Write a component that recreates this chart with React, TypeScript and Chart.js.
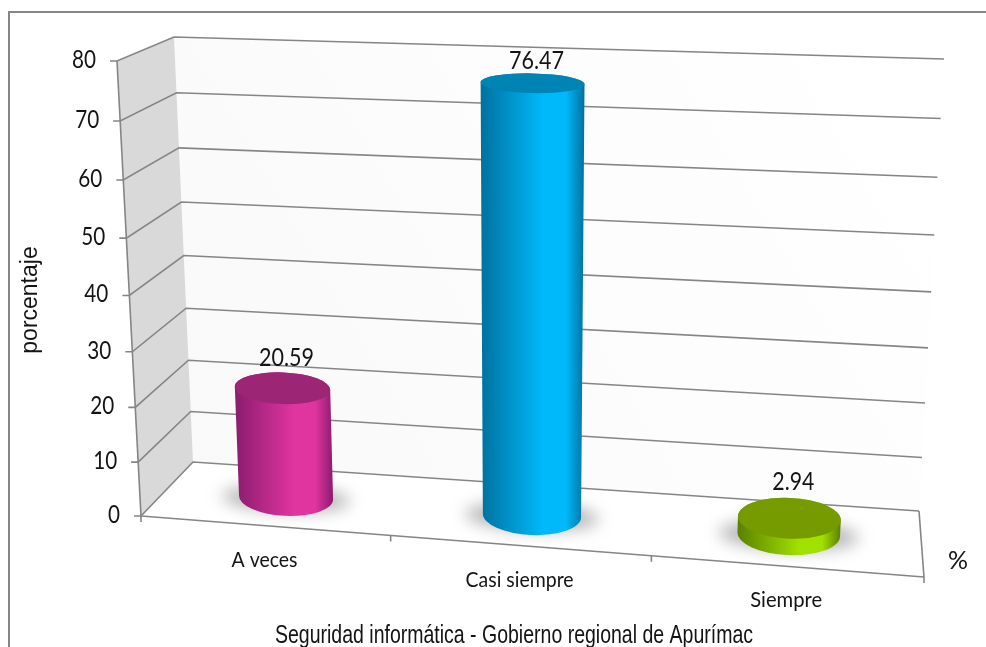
import { useEffect, useRef } from "react";
import { Chart, registerables } from "chart.js";
import type { Plugin } from "chart.js";

Chart.register(...registerables);

const categories = ["A veces", "Casi siempre", "Siempre"];
const percentages = [20.59, 76.47, 2.94];
const yTicks = [0, 10, 20, 30, 40, 50, 60, 70, 80];
const sideDark = ["#8a1c6e", "#00719f", "#5b8000"];
const sideBright = ["#e0349f", "#00b9fa", "#a2e000"];
const capColors = ["#9c2675", "#0084b4", "#769b00"];
const categoryWidths = [66, 108, 72];
const axisTitleX = "Seguridad informática - Gobierno regional de Apurímac";
const axisTitleY = "porcentaje";
const unitLabel = "%";

type Pt = [number, number];
const FONT = "Lato, 'Noto Sans', sans-serif";
const TITLE_FONT = "'Liberation Sans', Arial, sans-serif";
const LINE = "#858585";

// Corners of the chart box on screen: bottom-left, bottom-right, top-right, top-left.
const frontPlane: Pt[] = [[141, 516], [924, 577], [951, 93], [117, 61]];
const backPlane: Pt[] = [[193, 462], [919, 511], [944, 59], [174, 37]];

// Projective map of the unit square onto a screen quad.
function homography(q: Pt[]) {
  const [[x0, y0], [x1, y1], [x2, y2], [x3, y3]] = q;
  const dx1 = x1 - x2, dx2 = x3 - x2, sx = x0 - x1 + x2 - x3;
  const dy1 = y1 - y2, dy2 = y3 - y2, sy = y0 - y1 + y2 - y3;
  const det = dx1 * dy2 - dx2 * dy1;
  const g = (sx * dy2 - dx2 * sy) / det;
  const h = (dx1 * sy - sx * dy1) / det;
  const a = x1 - x0 + g * x1, b = x3 - x0 + h * x3;
  const d = y1 - y0 + g * y1, e = y3 - y0 + h * y3;
  return (u: number, v: number): Pt => {
    const w = g * u + h * v + 1;
    return [(a * u + b * v + x0) / w, (d * u + e * v + y0) / w];
  };
}

const front = homography(frontPlane);
const back = homography(backPlane);

// u: along the category axis, depth: 0 front to 1 back, v: fraction of the value axis.
function project(u: number, depth: number, v: number): Pt {
  const f = front(u, v);
  const b = back(u, v);
  return [f[0] + (b[0] - f[0]) * depth, f[1] + (b[1] - f[1]) * depth];
}

function segment(ctx: CanvasRenderingContext2D, a: Pt, b: Pt) {
  ctx.beginPath();
  ctx.moveTo(a[0], a[1]);
  ctx.lineTo(b[0], b[1]);
  ctx.stroke();
}

function polygon(ctx: CanvasRenderingContext2D, pts: Pt[]) {
  ctx.beginPath();
  pts.forEach((p, i) => (i ? ctx.lineTo(p[0], p[1]) : ctx.moveTo(p[0], p[1])));
  ctx.closePath();
}

function label(
  ctx: CanvasRenderingContext2D,
  text: string,
  x: number,
  y: number,
  font: string,
  align: CanvasTextAlign = "center",
  maxWidth?: number,
) {
  ctx.font = font;
  ctx.fillStyle = "#141414";
  ctx.textAlign = align;
  ctx.textBaseline = "middle";
  if (maxWidth) ctx.fillText(text, x, y, maxWidth);
  else ctx.fillText(text, x, y);
}

const roomPlugin: Plugin<"bar"> = {
  id: "room",
  beforeDatasetsDraw(chart) {
    const { ctx, scales } = chart;
    const y = scales.y;
    const frac = (val: number) => (y.bottom - y.getPixelForValue(val)) / (y.bottom - y.top);
    ctx.save();

    // Outer chart border, open on the right and at the bottom.
    ctx.strokeStyle = "#868686";
    ctx.lineWidth = 2;
    ctx.beginPath();
    ctx.moveTo(9, 647);
    ctx.lineTo(9, 12);
    ctx.lineTo(986, 12);
    ctx.stroke();

    // Back wall and side wall.
    const wall = ctx.createLinearGradient(190, 470, 900, 60);
    wall.addColorStop(0, "#f9f9f9");
    wall.addColorStop(1, "#ffffff");
    ctx.fillStyle = wall;
    polygon(ctx, [back(0, 0), back(1, 0), back(1, 1), back(0, 1)]);
    ctx.fill();
    ctx.fillStyle = "#d9d9d9";
    polygon(ctx, [front(0, 0), back(0, 0), back(0, 1), front(0, 1)]);
    ctx.fill();

    // Gridlines run along the side wall and across the back wall.
    ctx.strokeStyle = LINE;
    ctx.lineWidth = 1.6;
    yTicks.forEach((t) => {
      const v = frac(t);
      const f = front(0, v);
      const b = back(0, v);
      const r = back(1, v);
      ctx.beginPath();
      ctx.moveTo(f[0] - 7, f[1]);
      ctx.lineTo(f[0], f[1]);
      ctx.lineTo(b[0], b[1]);
      ctx.lineTo(r[0], r[1]);
      ctx.stroke();
      label(ctx, String(t), f[0] - 21, f[1] - 1, `25px ${FONT}`, "right", t === 0 ? 12 : 24);
    });

    // Value axis edge and floor outline.
    segment(ctx, front(0, 0), front(0, 1));
    segment(ctx, back(1, 0), front(1, 0));
    segment(ctx, front(0, 0), front(1, 0));
    for (let i = 0; i <= categories.length; i++) {
      const p = front(i / categories.length, 0);
      segment(ctx, p, [p[0], p[1] + 6]);
    }
    ctx.restore();
  },
  afterDatasetsDraw(chart) {
    const { ctx, chartArea } = chart;
    const meta = chart.getDatasetMeta(0);
    const areaW = chartArea.right - chartArea.left;
    const areaH = chartArea.bottom - chartArea.top;
    const depth = 0.5;
    const depthSpan = 0.325;
    ctx.save();

    meta.data.forEach((bar: any, i: number) => {
      const u = (bar.x - chartArea.left) / areaW;
      const du = bar.width / 2 / areaW;
      const v = (bar.base - bar.y) / areaH;

      const ellipseAt = (lvl: number) => {
        const c = project(u, depth, lvl);
        const l = project(u - du, depth, lvl);
        const r = project(u + du, depth, lvl);
        const n = project(u, depth - depthSpan, lvl);
        const f = project(u, depth + depthSpan, lvl);
        return {
          c,
          rx: Math.hypot(r[0] - l[0], r[1] - l[1]) / 2,
          ry: Math.abs(n[1] - f[1]) / 2,
          rot: Math.atan2(r[1] - l[1], r[0] - l[0]) * 0.6,
        };
      };
      const bottom = ellipseAt(0);
      const top = ellipseAt(v);

      // Soft contact shadow on the floor.
      ctx.save();
      ctx.filter = "blur(8px)";
      ctx.fillStyle = "rgba(110,110,110,0.5)";
      ctx.beginPath();
      ctx.ellipse(bottom.c[0], bottom.c[1] + 1, bottom.rx * 1.36, bottom.ry * 0.72, bottom.rot, 0, Math.PI * 2);
      ctx.fill();
      ctx.restore();

      // Cylinder wall, shaded across its width.
      const leftX = Math.min(top.c[0] - top.rx, bottom.c[0] - bottom.rx);
      const rightX = Math.max(top.c[0] + top.rx, bottom.c[0] + bottom.rx);
      const shade = ctx.createLinearGradient(leftX, 0, rightX, 0);
      shade.addColorStop(0, sideDark[i]);
      shade.addColorStop(0.6, sideBright[i]);
      shade.addColorStop(0.82, sideBright[i]);
      shade.addColorStop(1, sideDark[i]);
      ctx.fillStyle = shade;
      ctx.beginPath();
      ctx.ellipse(bottom.c[0], bottom.c[1], bottom.rx, bottom.ry, bottom.rot, 0, Math.PI);
      ctx.ellipse(top.c[0], top.c[1], top.rx, top.ry, top.rot, Math.PI, Math.PI * 2);
      ctx.closePath();
      ctx.fill();

      // Cap.
      ctx.fillStyle = capColors[i];
      ctx.beginPath();
      ctx.ellipse(top.c[0], top.c[1], top.rx, top.ry, top.rot, 0, Math.PI * 2);
      ctx.fill();

      // Value above the cap and category under the front edge.
      const gap = 8 + top.ry * 0.4;
      label(ctx, percentages[i].toFixed(2), top.c[0] + 4, top.c[1] - top.ry - gap, `25px ${FONT}`, "center", i === 2 ? 42 : 55);
      const edge = front(u, 0);
      label(ctx, categories[i], edge[0], edge[1] + 34, `22px ${FONT}`, "center", categoryWidths[i]);
    });

    label(ctx, unitLabel, 958, 561, `25px ${FONT}`, "center", 20);
    label(ctx, axisTitleX, 514, 636, `25px ${TITLE_FONT}`, "center", 478);
    ctx.save();
    ctx.translate(31, 300);
    ctx.rotate(-Math.PI / 2);
    label(ctx, axisTitleY, 0, 0, `23px ${TITLE_FONT}`, "center", 108);
    ctx.restore();
    ctx.restore();
  },
};

export default function App() {
  const canvasRef = useRef<HTMLCanvasElement>(null);

  useEffect(() => {
    const chart = new Chart(canvasRef.current!, {
      type: "bar",
      data: {
        labels: categories,
        datasets: [
          {
            data: percentages,
            backgroundColor: "rgba(0,0,0,0)",
            barPercentage: 0.39,
            categoryPercentage: 1,
          },
        ],
      },
      options: {
        responsive: false,
        animation: false,
        layout: { padding: { left: 141, right: 62, top: 61, bottom: 131 } },
        plugins: { legend: { display: false }, tooltip: { enabled: false }, title: { display: false } },
        scales: {
          x: { display: false },
          y: { display: false, min: 0, max: 80, ticks: { stepSize: 10 } },
        },
      },
      plugins: [roomPlugin],
    });
    return () => chart.destroy();
  }, []);

  return (
    <div style={{ position: "absolute", left: 0, top: 0, width: 986, height: 647, background: "#fff" }}>
      <canvas ref={canvasRef} width={986} height={647} style={{ display: "block" }} />
    </div>
  );
}
